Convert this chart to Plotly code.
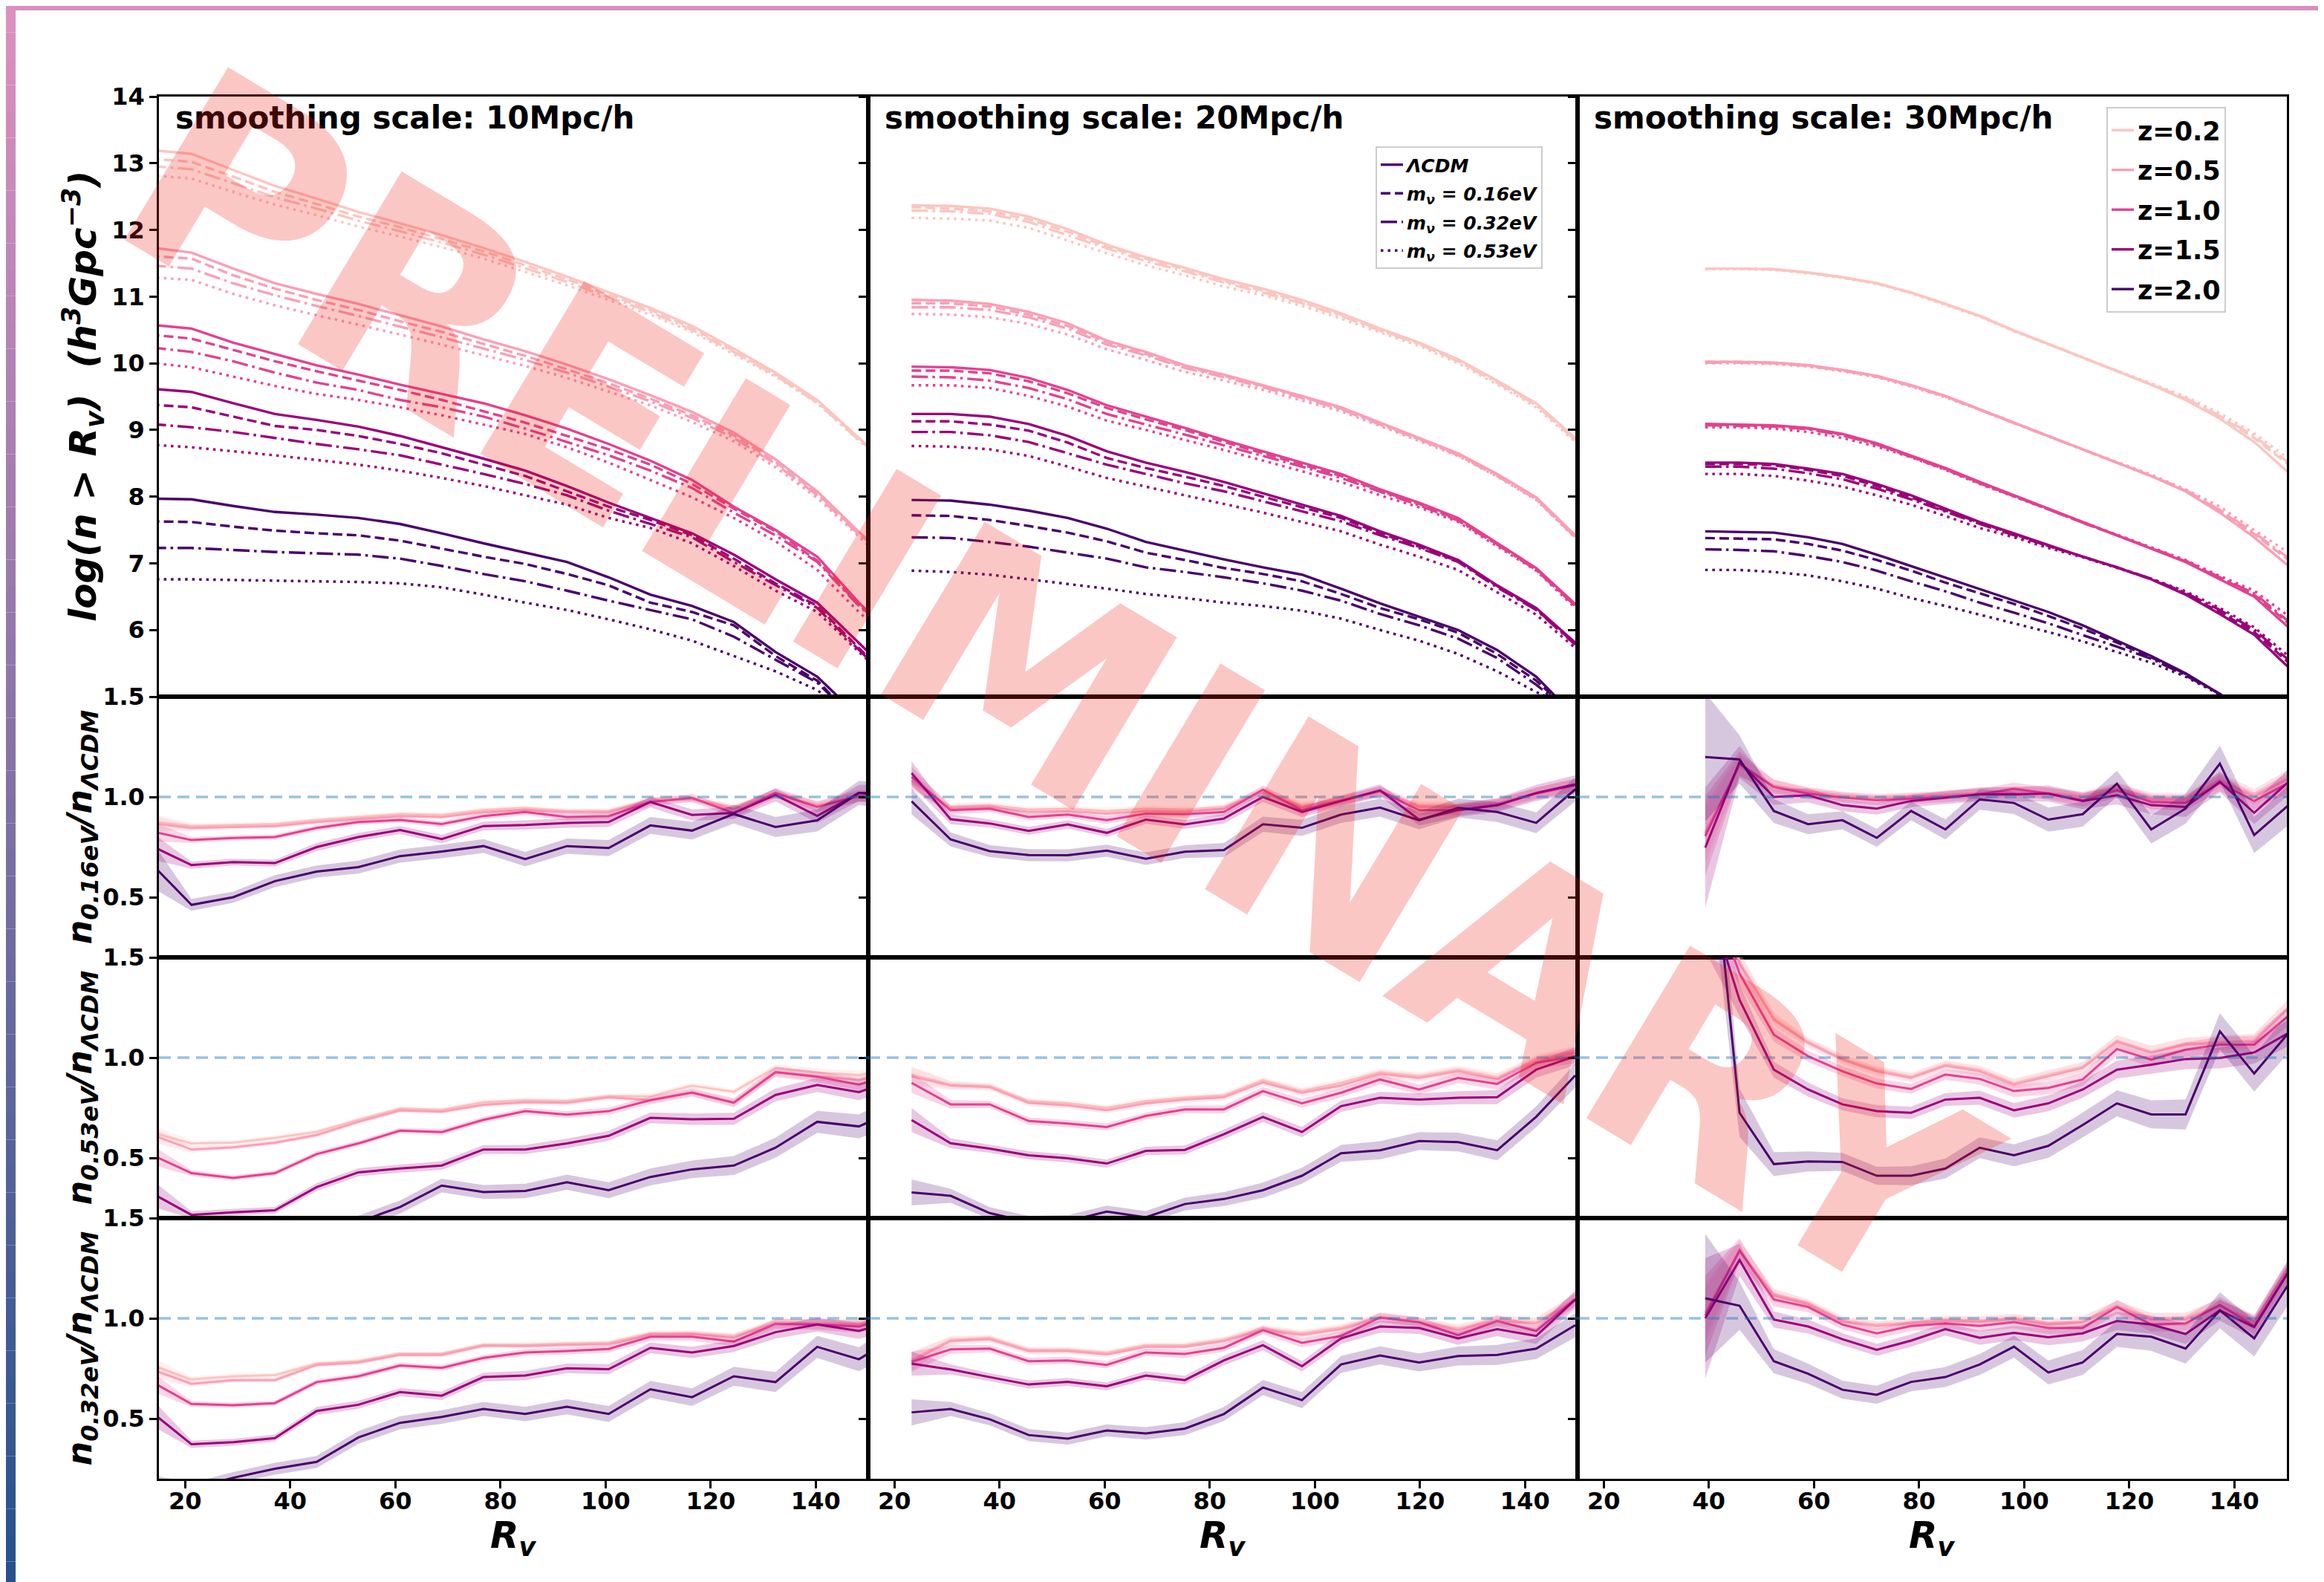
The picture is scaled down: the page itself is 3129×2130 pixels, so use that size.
import plotly.graph_objects as go

W, H = 3129, 2130

# ---------------- data ----------------
Z_LABELS = ["z=0.2", "z=0.5", "z=1.0", "z=1.5", "z=2.0"]
Z_COLORS = ["#fcc5c0", "#fa9fb5", "#e3418f", "#9a017a", "#49006a"]
MODEL_NAMES = ["ΛCDM", "m<sub>ν</sub> = 0.16eV", "m<sub>ν</sub> = 0.32eV", "m<sub>ν</sub> = 0.53eV"]
X_TICKS = [20, 40, 60, 80, 100, 120, 140]
Y_TICKS_TOP = [6, 7, 8, 9, 10, 11, 12, 13, 14]
Y_TICKS_RATIO = [0.5, 1.0, 1.5]

# void radius bin centres for each smoothing scale
X10 = [13.25, 21.19, 29.13, 37.07, 45.01, 52.95, 60.89, 68.83, 76.77, 84.71, 92.65,
       100.59, 108.53, 116.47, 124.41, 132.35, 140.29, 148.23, 156.17]
X20 = [23.25, 30.68, 38.11, 45.54, 52.97, 60.40, 67.83, 75.26, 82.69, 90.12, 97.55,
       104.98, 112.41, 119.84, 127.27, 134.70, 142.13, 149.56]
X30 = [39.30, 45.83, 52.36, 58.89, 65.42, 71.95, 78.48, 85.01, 91.54, 98.07, 104.60,
       111.13, 117.66, 124.19, 130.72, 137.25, 143.78, 150.31]

# top row: log(n > Rv), one list per redshift (0.2, 0.5, 1.0, 1.5, 2.0)
TOP10_LCDM = [
    [13.20, 13.14, 12.90, 12.66, 12.47, 12.27, 12.10, 11.92, 11.73, 11.52, 11.30, 11.06, 10.83, 10.56, 10.22, 9.86, 9.45, 8.88, 8.30],
    [11.74, 11.66, 11.42, 11.20, 11.04, 10.89, 10.72, 10.55, 10.36, 10.18, 9.98, 9.76, 9.52, 9.27, 8.96, 8.56, 8.08, 7.47, 6.90],
    [10.58, 10.52, 10.31, 10.14, 9.97, 9.83, 9.68, 9.54, 9.40, 9.22, 9.02, 8.79, 8.54, 8.25, 7.85, 7.50, 7.10, 6.41, 5.80],
    [9.62, 9.57, 9.40, 9.24, 9.15, 9.05, 8.91, 8.74, 8.57, 8.39, 8.16, 7.91, 7.68, 7.45, 7.13, 6.76, 6.41, 5.81, 5.20],
    [7.97, 7.96, 7.86, 7.77, 7.73, 7.68, 7.59, 7.45, 7.30, 7.16, 7.02, 6.79, 6.53, 6.36, 6.12, 5.67, 5.30, 4.70, 4.10]]
TOP10_016 = [
    [13.07, 13.02, 12.80, 12.57, 12.39, 12.20, 12.04, 11.86, 11.68, 11.47, 11.26, 11.03, 10.80, 10.53, 10.19, 9.84, 9.43, 8.86, 8.30],
    [11.61, 11.57, 11.32, 11.12, 10.95, 10.80, 10.63, 10.47, 10.29, 10.11, 9.91, 9.70, 9.47, 9.22, 8.92, 8.52, 8.05, 7.45, 6.90],
    [10.43, 10.37, 10.20, 10.03, 9.88, 9.74, 9.60, 9.45, 9.28, 9.11, 8.91, 8.71, 8.48, 8.19, 7.82, 7.48, 7.04, 6.38, 5.80],
    [9.38, 9.34, 9.20, 9.06, 9.00, 8.91, 8.79, 8.65, 8.48, 8.31, 8.08, 7.85, 7.65, 7.42, 7.07, 6.70, 6.36, 5.73, 5.10],
    [7.63, 7.62, 7.55, 7.49, 7.45, 7.42, 7.34, 7.22, 7.10, 6.99, 6.84, 6.67, 6.41, 6.27, 6.07, 5.61, 5.24, 4.60, 4.00]]
TOP10_032 = [
    [12.96, 12.91, 12.70, 12.49, 12.32, 12.14, 11.98, 11.81, 11.63, 11.43, 11.22, 10.99, 10.77, 10.50, 10.17, 9.82, 9.41, 8.85, 8.30],
    [11.47, 11.42, 11.20, 11.02, 10.86, 10.71, 10.55, 10.39, 10.22, 10.05, 9.86, 9.65, 9.43, 9.18, 8.88, 8.49, 8.02, 7.43, 6.90],
    [10.24, 10.17, 10.03, 9.86, 9.71, 9.60, 9.45, 9.34, 9.20, 9.02, 8.82, 8.62, 8.39, 8.13, 7.76, 7.42, 7.02, 6.36, 5.80],
    [9.09, 9.04, 8.97, 8.88, 8.79, 8.71, 8.62, 8.48, 8.34, 8.19, 8.02, 7.79, 7.59, 7.39, 7.02, 6.67, 6.33, 5.70, 5.10],
    [7.23, 7.23, 7.20, 7.17, 7.15, 7.13, 7.07, 6.96, 6.84, 6.73, 6.59, 6.44, 6.30, 6.16, 5.90, 5.55, 5.21, 4.60, 4.00]]
TOP10_053 = [
    [12.82, 12.77, 12.57, 12.38, 12.22, 12.05, 11.90, 11.74, 11.57, 11.37, 11.17, 10.95, 10.73, 10.47, 10.14, 9.80, 9.40, 8.84, 8.30],
    [11.29, 11.25, 11.04, 10.87, 10.72, 10.58, 10.43, 10.28, 10.12, 9.96, 9.78, 9.58, 9.37, 9.12, 8.83, 8.44, 7.98, 7.40, 6.80],
    [10.01, 9.94, 9.80, 9.66, 9.54, 9.45, 9.34, 9.22, 9.08, 8.94, 8.74, 8.51, 8.25, 7.99, 7.68, 7.33, 6.90, 6.27, 5.70],
    [8.78, 8.74, 8.68, 8.62, 8.55, 8.48, 8.39, 8.28, 8.16, 8.02, 7.88, 7.68, 7.53, 7.30, 6.96, 6.59, 6.27, 5.67, 5.10],
    [6.76, 6.76, 6.75, 6.74, 6.73, 6.72, 6.70, 6.64, 6.53, 6.41, 6.30, 6.16, 6.01, 5.84, 5.61, 5.38, 5.10, 4.60, 4.00]]

TOP20_LCDM = [
    [12.37, 12.36, 12.32, 12.20, 12.01, 11.78, 11.59, 11.43, 11.26, 11.12, 10.95, 10.75, 10.52, 10.31, 10.06, 9.74, 9.40, 8.88],
    [10.95, 10.94, 10.89, 10.77, 10.60, 10.34, 10.17, 9.97, 9.83, 9.67, 9.51, 9.34, 9.11, 8.88, 8.65, 8.34, 7.99, 7.42],
    [9.95, 9.94, 9.90, 9.78, 9.60, 9.37, 9.20, 9.03, 8.85, 8.68, 8.51, 8.34, 8.11, 7.91, 7.68, 7.30, 6.93, 6.39],
    [9.24, 9.24, 9.20, 9.09, 8.91, 8.68, 8.51, 8.37, 8.22, 8.05, 7.88, 7.71, 7.48, 7.28, 7.05, 6.67, 6.33, 5.81],
    [7.95, 7.94, 7.88, 7.79, 7.68, 7.52, 7.32, 7.19, 7.06, 6.94, 6.83, 6.62, 6.40, 6.20, 6.00, 5.70, 5.30, 4.70]]
TOP20_016 = [
    [12.34, 12.32, 12.28, 12.16, 11.97, 11.75, 11.57, 11.41, 11.23, 11.09, 10.92, 10.73, 10.50, 10.30, 10.04, 9.73, 9.39, 8.86],
    [10.90, 10.90, 10.85, 10.73, 10.56, 10.32, 10.14, 9.95, 9.81, 9.66, 9.50, 9.32, 9.10, 8.87, 8.64, 8.33, 7.98, 7.40],
    [9.89, 9.89, 9.85, 9.73, 9.55, 9.33, 9.16, 9.00, 8.82, 8.65, 8.48, 8.31, 8.09, 7.89, 7.66, 7.29, 6.92, 6.37],
    [9.13, 9.13, 9.08, 8.99, 8.81, 8.58, 8.43, 8.30, 8.16, 8.00, 7.84, 7.68, 7.45, 7.25, 7.03, 6.66, 6.31, 5.79],
    [7.72, 7.71, 7.65, 7.56, 7.46, 7.33, 7.16, 7.05, 6.93, 6.84, 6.73, 6.54, 6.33, 6.16, 5.96, 5.64, 5.24, 4.70]]
TOP20_032 = [
    [12.29, 12.28, 12.24, 12.12, 11.92, 11.72, 11.53, 11.38, 11.21, 11.06, 10.90, 10.71, 10.49, 10.29, 10.03, 9.71, 9.37, 8.85],
    [10.84, 10.84, 10.80, 10.69, 10.52, 10.28, 10.12, 9.93, 9.79, 9.64, 9.48, 9.31, 9.08, 8.86, 8.62, 8.31, 7.96, 7.39],
    [9.80, 9.79, 9.74, 9.63, 9.46, 9.24, 9.08, 8.93, 8.77, 8.61, 8.45, 8.28, 8.07, 7.87, 7.64, 7.28, 6.90, 6.36],
    [8.97, 8.97, 8.92, 8.82, 8.65, 8.48, 8.34, 8.20, 8.08, 7.93, 7.78, 7.63, 7.42, 7.23, 7.02, 6.64, 6.30, 5.78],
    [7.39, 7.38, 7.32, 7.25, 7.16, 7.07, 6.94, 6.87, 6.79, 6.70, 6.59, 6.44, 6.24, 6.07, 5.87, 5.58, 5.18, 4.70]]
TOP20_053 = [
    [12.18, 12.17, 12.14, 12.03, 11.84, 11.65, 11.47, 11.32, 11.15, 11.02, 10.86, 10.67, 10.46, 10.26, 10.00, 9.68, 9.34, 8.82],
    [10.74, 10.73, 10.69, 10.59, 10.43, 10.21, 10.05, 9.87, 9.74, 9.60, 9.44, 9.28, 9.06, 8.84, 8.61, 8.30, 7.95, 7.38],
    [9.67, 9.67, 9.63, 9.51, 9.35, 9.14, 9.00, 8.85, 8.70, 8.54, 8.38, 8.22, 8.02, 7.84, 7.62, 7.26, 6.89, 6.33],
    [8.76, 8.75, 8.71, 8.61, 8.45, 8.28, 8.15, 8.02, 7.89, 7.76, 7.62, 7.48, 7.28, 7.10, 6.90, 6.56, 6.23, 5.73],
    [6.89, 6.87, 6.83, 6.76, 6.69, 6.62, 6.54, 6.48, 6.41, 6.36, 6.29, 6.17, 6.00, 5.84, 5.64, 5.38, 5.07, 4.80]]

TOP30_LCDM = [
    [11.42, 11.42, 11.41, 11.36, 11.29, 11.20, 11.06, 10.89, 10.71, 10.49, 10.29, 10.09, 9.89, 9.68, 9.45, 9.17, 8.82, 8.36],
    [10.02, 10.02, 10.01, 9.97, 9.90, 9.81, 9.67, 9.51, 9.31, 9.11, 8.91, 8.71, 8.51, 8.31, 8.08, 7.76, 7.39, 6.96],
    [9.09, 9.08, 9.07, 9.03, 8.94, 8.80, 8.62, 8.43, 8.22, 8.02, 7.82, 7.62, 7.42, 7.22, 7.02, 6.76, 6.50, 6.04],
    [8.51, 8.51, 8.49, 8.42, 8.34, 8.19, 8.02, 7.82, 7.62, 7.45, 7.28, 7.10, 6.94, 6.76, 6.53, 6.24, 5.93, 5.44],
    [7.48, 7.47, 7.46, 7.39, 7.29, 7.13, 6.96, 6.79, 6.62, 6.44, 6.27, 6.07, 5.84, 5.61, 5.35, 5.04, 4.69, 4.35]]
TOP30_016 = [
    [11.42, 11.42, 11.41, 11.36, 11.29, 11.20, 11.06, 10.89, 10.71, 10.49, 10.29, 10.09, 9.89, 9.68, 9.47, 9.20, 8.88, 8.48],
    [10.02, 10.02, 10.01, 9.97, 9.90, 9.81, 9.67, 9.51, 9.31, 9.11, 8.91, 8.71, 8.51, 8.31, 8.09, 7.79, 7.44, 7.05],
    [9.08, 9.07, 9.06, 9.02, 8.93, 8.79, 8.61, 8.42, 8.21, 8.01, 7.81, 7.61, 7.42, 7.22, 7.03, 6.78, 6.53, 6.10],
    [8.49, 8.49, 8.47, 8.40, 8.31, 8.16, 7.99, 7.79, 7.61, 7.44, 7.26, 7.10, 6.94, 6.76, 6.54, 6.27, 5.97, 5.51],
    [7.38, 7.37, 7.36, 7.29, 7.19, 7.05, 6.89, 6.71, 6.55, 6.39, 6.21, 6.02, 5.81, 5.59, 5.34, 5.04, 4.69, 4.35]]
TOP30_032 = [
    [11.42, 11.42, 11.41, 11.36, 11.29, 11.20, 11.06, 10.89, 10.71, 10.49, 10.29, 10.09, 9.89, 9.68, 9.48, 9.21, 8.91, 8.51],
    [10.01, 10.01, 10.00, 9.96, 9.89, 9.80, 9.66, 9.50, 9.30, 9.10, 8.90, 8.71, 8.51, 8.31, 8.10, 7.80, 7.46, 7.08],
    [9.07, 9.06, 9.05, 9.01, 8.92, 8.78, 8.60, 8.41, 8.20, 8.01, 7.81, 7.61, 7.42, 7.23, 7.04, 6.79, 6.55, 6.13],
    [8.45, 8.45, 8.42, 8.35, 8.26, 8.12, 7.96, 7.77, 7.59, 7.42, 7.26, 7.10, 6.94, 6.77, 6.56, 6.30, 6.01, 5.55],
    [7.21, 7.20, 7.18, 7.11, 7.02, 6.89, 6.73, 6.58, 6.41, 6.26, 6.10, 5.93, 5.75, 5.57, 5.32, 5.04, 4.69, 4.35]]
TOP30_053 = [
    [11.41, 11.41, 11.40, 11.35, 11.28, 11.19, 11.05, 10.88, 10.70, 10.48, 10.28, 10.08, 9.89, 9.70, 9.50, 9.25, 8.95, 8.57],
    [10.00, 10.00, 9.99, 9.95, 9.88, 9.79, 9.65, 9.49, 9.30, 9.10, 8.90, 8.71, 8.52, 8.33, 8.11, 7.85, 7.50, 7.16],
    [9.04, 9.04, 9.02, 8.97, 8.88, 8.75, 8.59, 8.40, 8.19, 8.00, 7.80, 7.61, 7.42, 7.23, 7.05, 6.81, 6.59, 6.21],
    [8.34, 8.34, 8.31, 8.24, 8.15, 8.02, 7.88, 7.71, 7.53, 7.39, 7.23, 7.09, 6.93, 6.77, 6.58, 6.33, 6.04, 5.61],
    [6.90, 6.90, 6.87, 6.82, 6.73, 6.62, 6.48, 6.36, 6.23, 6.10, 5.97, 5.83, 5.67, 5.51, 5.30, 5.03, 4.69, 4.35]]

# ratio rows n_mnu / n_LCDM, one list per redshift
R016_10 = [
    [0.88, 0.855, 0.86, 0.865, 0.885, 0.90, 0.915, 0.91, 0.935, 0.945, 0.93, 0.93, 0.985, 0.99, 0.95, 1.02, 0.96, 1.005, 1.0],
    [0.87, 0.845, 0.85, 0.855, 0.875, 0.89, 0.905, 0.90, 0.925, 0.935, 0.925, 0.925, 0.98, 0.99, 0.94, 1.015, 0.955, 1.0, 1.0],
    [0.83, 0.785, 0.795, 0.80, 0.845, 0.875, 0.885, 0.865, 0.905, 0.925, 0.90, 0.905, 0.975, 0.995, 0.92, 1.02, 0.95, 1.005, 1.0],
    [0.76, 0.66, 0.675, 0.67, 0.75, 0.80, 0.835, 0.79, 0.855, 0.86, 0.87, 0.875, 0.975, 0.91, 0.92, 1.01, 0.905, 1.02, 1.02],
    [0.675, 0.462, 0.50, 0.58, 0.628, 0.65, 0.705, 0.728, 0.755, 0.69, 0.755, 0.745, 0.858, 0.832, 0.915, 0.85, 0.883, 1.02, 1.0]]
R053_10 = [
    [0.63, 0.572, 0.576, 0.60, 0.63, 0.69, 0.746, 0.74, 0.778, 0.788, 0.784, 0.807, 0.807, 0.86, 0.83, 0.95, 0.926, 0.913, 0.95],
    [0.62, 0.542, 0.553, 0.576, 0.614, 0.68, 0.737, 0.731, 0.765, 0.778, 0.775, 0.803, 0.788, 0.826, 0.775, 0.928, 0.907, 0.888, 0.93],
    [0.52, 0.424, 0.40, 0.424, 0.519, 0.572, 0.636, 0.629, 0.69, 0.733, 0.716, 0.733, 0.788, 0.826, 0.775, 0.928, 0.905, 0.866, 0.93],
    [0.33, 0.216, 0.229, 0.239, 0.354, 0.428, 0.447, 0.462, 0.542, 0.542, 0.572, 0.61, 0.70, 0.693, 0.695, 0.814, 0.864, 0.828, 0.90],
    [0.08, 0.09, 0.10, 0.12, 0.14, 0.18, 0.255, 0.362, 0.33, 0.335, 0.379, 0.339, 0.405, 0.443, 0.462, 0.551, 0.68, 0.657, 0.75]]
R032_10 = [
    [0.77, 0.695, 0.711, 0.717, 0.774, 0.786, 0.824, 0.824, 0.868, 0.868, 0.874, 0.878, 0.925, 0.927, 0.912, 0.981, 0.975, 0.975, 1.0],
    [0.75, 0.673, 0.692, 0.692, 0.768, 0.78, 0.818, 0.818, 0.864, 0.862, 0.868, 0.871, 0.918, 0.921, 0.906, 0.975, 0.969, 0.969, 1.0],
    [0.69, 0.573, 0.567, 0.577, 0.682, 0.711, 0.765, 0.753, 0.803, 0.83, 0.837, 0.847, 0.908, 0.908, 0.884, 0.972, 0.969, 0.959, 1.02],
    [0.54, 0.372, 0.382, 0.403, 0.538, 0.569, 0.632, 0.614, 0.707, 0.715, 0.751, 0.746, 0.853, 0.83, 0.862, 0.931, 0.969, 0.937, 1.0],
    [0.10, 0.15, 0.205, 0.25, 0.284, 0.406, 0.479, 0.508, 0.548, 0.523, 0.559, 0.523, 0.646, 0.607, 0.711, 0.682, 0.858, 0.796, 0.92]]

R016_20 = [
    [1.075, 0.95, 0.959, 0.937, 0.942, 0.93, 0.942, 0.937, 0.95, 1.025, 0.959, 0.983, 1.025, 0.959, 0.959, 0.97, 1.017, 1.058],
    [1.083, 0.942, 0.95, 0.925, 0.93, 0.917, 0.93, 0.925, 0.942, 1.03, 0.95, 0.98, 1.03, 0.95, 0.95, 0.967, 1.02, 1.058],
    [1.10, 0.934, 0.942, 0.90, 0.912, 0.884, 0.917, 0.914, 0.925, 1.036, 0.934, 0.983, 1.03, 0.934, 0.934, 0.959, 1.017, 1.058],
    [1.119, 0.889, 0.868, 0.831, 0.863, 0.821, 0.887, 0.863, 0.892, 1.0, 0.925, 0.98, 1.033, 0.887, 0.934, 0.959, 1.02, 1.063],
    [0.978, 0.788, 0.73, 0.71, 0.709, 0.732, 0.692, 0.727, 0.735, 0.864, 0.846, 0.912, 0.947, 0.884, 0.945, 0.925, 0.871, 1.038]]
R053_20 = [
    [0.916, 0.866, 0.858, 0.783, 0.772, 0.75, 0.783, 0.80, 0.811, 0.887, 0.833, 0.874, 0.927, 0.907, 0.94, 0.902, 0.99, 1.031],
    [0.907, 0.861, 0.853, 0.775, 0.762, 0.738, 0.772, 0.791, 0.803, 0.877, 0.825, 0.861, 0.919, 0.899, 0.932, 0.894, 0.982, 1.023],
    [0.874, 0.767, 0.767, 0.684, 0.671, 0.654, 0.709, 0.742, 0.742, 0.833, 0.772, 0.825, 0.891, 0.841, 0.899, 0.869, 0.974, 1.007],
    [0.689, 0.573, 0.546, 0.513, 0.498, 0.472, 0.535, 0.54, 0.618, 0.704, 0.629, 0.758, 0.80, 0.791, 0.80, 0.803, 0.94, 1.007],
    [0.328, 0.311, 0.225, 0.18, 0.185, 0.232, 0.204, 0.27, 0.295, 0.339, 0.411, 0.523, 0.538, 0.584, 0.579, 0.538, 0.705, 0.911]]
R032_20 = [
    [0.793, 0.893, 0.903, 0.843, 0.843, 0.828, 0.866, 0.866, 0.893, 0.95, 0.925, 0.954, 1.009, 0.987, 0.95, 0.994, 0.981, 1.094],
    [0.786, 0.887, 0.896, 0.837, 0.837, 0.82, 0.858, 0.858, 0.887, 0.943, 0.918, 0.946, 1.004, 0.981, 0.943, 0.987, 0.975, 1.088],
    [0.783, 0.845, 0.849, 0.786, 0.79, 0.768, 0.83, 0.822, 0.853, 0.941, 0.878, 0.912, 1.004, 0.981, 0.916, 0.987, 0.937, 1.097],
    [0.774, 0.745, 0.707, 0.67, 0.683, 0.661, 0.715, 0.692, 0.79, 0.866, 0.761, 0.90, 0.959, 0.952, 0.90, 0.946, 0.912, 1.094],
    [0.531, 0.548, 0.497, 0.418, 0.40, 0.441, 0.426, 0.45, 0.523, 0.655, 0.592, 0.77, 0.815, 0.78, 0.812, 0.818, 0.849, 0.966]]

R016_30 = [
    [0.826, 1.152, 1.058, 1.03, 1.008, 0.997, 1.003, 1.012, 1.02, 1.028, 1.022, 1.003, 1.046, 0.992, 0.992, 1.086, 1.008, 1.096],
    [0.818, 1.157, 1.053, 1.025, 1.003, 0.992, 1.0, 1.008, 1.017, 1.025, 1.017, 0.997, 1.041, 0.987, 0.983, 1.083, 1.0, 1.091],
    [0.805, 1.166, 1.05, 1.017, 0.997, 0.983, 0.992, 1.0, 1.013, 1.041, 1.017, 0.983, 1.033, 0.975, 0.97, 1.07, 0.98, 1.07],
    [0.747, 1.174, 1.0, 1.008, 0.959, 0.942, 0.98, 0.997, 1.013, 1.013, 1.017, 0.98, 1.008, 0.959, 0.95, 1.075, 0.921, 1.075],
    [1.199, 1.187, 0.93, 0.864, 0.884, 0.796, 0.93, 0.838, 0.988, 0.97, 0.887, 0.914, 1.066, 0.838, 0.942, 1.166, 0.81, 0.959]]
R053_30 = [
    [2.0, 1.48, 1.195, 1.08, 0.995, 0.94, 0.905, 0.966, 0.94, 0.872, 0.915, 0.955, 1.085, 1.03, 1.07, 1.078, 1.085, 1.25],
    [1.98, 1.47, 1.189, 1.073, 0.99, 0.932, 0.899, 0.96, 0.932, 0.866, 0.907, 0.949, 1.081, 1.026, 1.065, 1.073, 1.081, 1.247],
    [1.9, 1.42, 1.114, 1.007, 0.932, 0.871, 0.844, 0.916, 0.894, 0.833, 0.849, 0.891, 1.043, 0.99, 1.04, 1.065, 1.065, 1.209],
    [1.83, 1.288, 0.94, 0.841, 0.767, 0.733, 0.725, 0.791, 0.80, 0.737, 0.772, 0.841, 0.94, 0.965, 0.993, 0.998, 1.026, 1.123],
    [2.43, 0.725, 0.469, 0.482, 0.48, 0.411, 0.411, 0.447, 0.551, 0.513, 0.56, 0.664, 0.772, 0.717, 0.717, 1.131, 0.921, 1.123]]
R032_30 = [
    [1.031, 1.333, 1.119, 1.075, 0.991, 0.969, 0.981, 0.994, 0.991, 1.0, 0.975, 0.987, 1.063, 1.0, 1.0, 1.063, 0.987, 1.251],
    [1.025, 1.335, 1.113, 1.069, 0.984, 0.962, 0.975, 0.987, 0.984, 0.994, 0.969, 0.981, 1.057, 0.994, 0.994, 1.059, 0.981, 1.245],
    [1.013, 1.339, 1.094, 1.057, 0.969, 0.925, 0.962, 0.975, 0.962, 0.981, 0.952, 0.952, 1.057, 0.969, 0.975, 1.067, 0.962, 1.232],
    [1.0, 1.291, 0.994, 0.959, 0.896, 0.843, 0.889, 0.946, 0.903, 0.928, 0.906, 0.925, 0.987, 0.969, 0.922, 1.04, 0.956, 1.232],
    [1.10, 1.063, 0.786, 0.724, 0.644, 0.619, 0.683, 0.707, 0.77, 0.859, 0.73, 0.78, 0.922, 0.908, 0.849, 1.04, 0.90, 1.17]]

# half-width of the shaded uncertainty band for the ratio rows
ERR10 = [
    [0.04, 0.015, 0.012, 0.012, 0.012, 0.012, 0.012, 0.012, 0.012, 0.012, 0.013, 0.013, 0.015, 0.015, 0.015, 0.018, 0.02, 0.022, 0.03],
    [0.04, 0.015, 0.012, 0.012, 0.012, 0.012, 0.012, 0.012, 0.012, 0.013, 0.013, 0.014, 0.015, 0.016, 0.017, 0.02, 0.022, 0.025, 0.03],
    [0.05, 0.015, 0.013, 0.013, 0.014, 0.014, 0.014, 0.015, 0.015, 0.016, 0.017, 0.018, 0.02, 0.02, 0.022, 0.025, 0.027, 0.03, 0.035],
    [0.07, 0.018, 0.017, 0.017, 0.02, 0.02, 0.02, 0.021, 0.022, 0.023, 0.024, 0.025, 0.027, 0.028, 0.03, 0.032, 0.035, 0.04, 0.045],
    [0.12, 0.03, 0.028, 0.03, 0.03, 0.032, 0.033, 0.034, 0.035, 0.036, 0.038, 0.04, 0.042, 0.044, 0.047, 0.05, 0.055, 0.06, 0.07]]
ERR20 = [
    [0.04, 0.02, 0.015, 0.015, 0.015, 0.015, 0.015, 0.015, 0.016, 0.018, 0.018, 0.019, 0.02, 0.02, 0.021, 0.023, 0.025, 0.03],
    [0.045, 0.02, 0.016, 0.016, 0.016, 0.016, 0.016, 0.016, 0.017, 0.019, 0.019, 0.02, 0.021, 0.021, 0.022, 0.024, 0.026, 0.032],
    [0.05, 0.022, 0.018, 0.018, 0.018, 0.018, 0.018, 0.019, 0.02, 0.021, 0.022, 0.023, 0.024, 0.025, 0.026, 0.028, 0.03, 0.035],
    [0.06, 0.025, 0.02, 0.02, 0.02, 0.02, 0.021, 0.022, 0.024, 0.025, 0.026, 0.028, 0.03, 0.03, 0.032, 0.035, 0.04, 0.045],
    [0.065, 0.035, 0.03, 0.03, 0.03, 0.03, 0.031, 0.032, 0.035, 0.038, 0.04, 0.042, 0.045, 0.045, 0.047, 0.05, 0.052, 0.06]]
ERR30 = [
    [0.12, 0.05, 0.03, 0.022, 0.02, 0.02, 0.02, 0.021, 0.022, 0.024, 0.025, 0.026, 0.028, 0.03, 0.031, 0.033, 0.035, 0.04],
    [0.15, 0.055, 0.032, 0.024, 0.022, 0.022, 0.022, 0.023, 0.024, 0.026, 0.027, 0.028, 0.03, 0.032, 0.033, 0.035, 0.037, 0.045],
    [0.2, 0.06, 0.035, 0.027, 0.025, 0.025, 0.025, 0.026, 0.028, 0.03, 0.031, 0.032, 0.035, 0.036, 0.037, 0.04, 0.042, 0.05],
    [0.3, 0.08, 0.04, 0.035, 0.03, 0.03, 0.031, 0.032, 0.035, 0.036, 0.04, 0.041, 0.045, 0.046, 0.05, 0.052, 0.056, 0.065],
    [0.32, 0.12, 0.06, 0.05, 0.045, 0.045, 0.047, 0.05, 0.052, 0.055, 0.06, 0.062, 0.065, 0.07, 0.075, 0.09, 0.09, 0.1]]

PANELS = [
    dict(x=X10, top=[TOP10_LCDM, TOP10_016, TOP10_032, TOP10_053],
         ratio=[R016_10, R053_10, R032_10], err=ERR10, title="smoothing scale: 10Mpc/h"),
    dict(x=X20, top=[TOP20_LCDM, TOP20_016, TOP20_032, TOP20_053],
         ratio=[R016_20, R053_20, R032_20], err=ERR20, title="smoothing scale: 20Mpc/h"),
    dict(x=X30, top=[TOP30_LCDM, TOP30_016, TOP30_032, TOP30_053],
         ratio=[R016_30, R053_30, R032_30], err=ERR30, title="smoothing scale: 30Mpc/h"),
]
RATIO_LABELS = ["0.16eV", "0.53eV", "0.32eV"]

# ---------------- layout geometry (screen pixels) ----------------
SHIFT = 8  # the page body adds an 8 px margin around the figure
COL_L = [214, 1169, 2124]
COL_R = [1169, 2124, 3079]
ROW_T = [130, 938, 1289, 1640]
ROW_B = [938, 1289, 1640, 1991]
DASHES = ["solid", "13px,6px", "22px,6px,3.5px,6px", "3.5px,6px"]
FONT = "DejaVu Sans"


def pxx(p):
    return (p - SHIFT) / W


def pxy(p):
    return 1 - (p - SHIFT) / H


def rgba(hexc, a):
    h = hexc.lstrip("#")
    return "rgba(%d,%d,%d,%.3f)" % (int(h[0:2], 16), int(h[2:4], 16), int(h[4:6], 16), a)


fig = go.Figure()
layout = {}
shapes = []
annotations = []

tickfont = dict(family=FONT, size=32, color="black", weight="bold")

for r in range(4):
    for c in range(3):
        k = r * 3 + c + 1
        xa = "xaxis" if k == 1 else "xaxis%d" % k
        ya = "yaxis" if k == 1 else "yaxis%d" % k
        xr = "x" if k == 1 else "x%d" % k
        yr = "y" if k == 1 else "y%d" % k
        layout[xa] = dict(
            domain=[pxx(COL_L[c]), pxx(COL_R[c])], anchor=yr, range=[15, 150],
            showgrid=False, zeroline=False, showline=True, mirror=True,
            linecolor="black", linewidth=2.5, automargin=False,
            tickmode="array", tickvals=X_TICKS,
            ticks="outside" if r == 3 else "", ticklen=10, tickwidth=2.5, tickcolor="black",
            ticklabelstandoff=-10,
            showticklabels=(r == 3), tickfont=tickfont)
        if r == 0:
            yrange, ytv, ytt = [5, 14], Y_TICKS_TOP, [str(v) for v in Y_TICKS_TOP]
        else:
            yrange, ytv, ytt = [0.2, 1.5], Y_TICKS_RATIO, ["%.1f" % v for v in Y_TICKS_RATIO]
        layout[ya] = dict(
            domain=[pxy(ROW_B[r]), pxy(ROW_T[r])], anchor=xr, range=yrange,
            showgrid=False, zeroline=False, showline=True, mirror=True,
            linecolor="black", linewidth=2.5, automargin=False,
            tickmode="array", tickvals=ytv, ticktext=ytt,
            ticks="outside", ticklen=10, tickwidth=2.5, tickcolor="black",
            showticklabels=(c == 0), tickfont=tickfont)

        P = PANELS[c]
        xs = P["x"]
        if r == 0:
            for zi in range(5):
                for mi in range(4):
                    in_leg1 = (c == 1 and zi == 4)
                    in_leg2 = (c == 2 and mi == 0)
                    tr = dict(
                        x=xs, y=P["top"][mi][zi], mode="lines", xaxis=xr, yaxis=yr,
                        line=dict(color=Z_COLORS[zi], width=3.4, dash=DASHES[mi]),
                        hoverinfo="skip", showlegend=False)
                    if in_leg1:
                        tr.update(showlegend=True, name=MODEL_NAMES[mi], legend="legend",
                                  legendgroup="m%d" % mi)
                    elif in_leg2:
                        tr.update(showlegend=True, name=Z_LABELS[zi], legend="legend2",
                                  legendgroup="z%d" % zi)
                    fig.add_trace(go.Scatter(**tr))
            annotations.append(dict(
                text="<b>%s</b>" % P["title"], xref="paper", yref="paper",
                x=pxx(COL_L[c] + 20), y=pxy(158), xanchor="left", yanchor="middle",
                showarrow=False, font=dict(family=FONT, size=42, color="black")))
        else:
            ratios = P["ratio"][r - 1]
            for zi in range(5):
                yv = ratios[zi]
                ev = P["err"][zi]
                up = [a + b for a, b in zip(yv, ev)]
                lo = [a - b for a, b in zip(yv, ev)]
                fig.add_trace(go.Scatter(
                    x=list(xs) + list(xs[::-1]), y=up + lo[::-1], mode="lines",
                    fill="toself", fillcolor=rgba(Z_COLORS[zi], 0.22),
                    line=dict(width=0), xaxis=xr, yaxis=yr,
                    hoverinfo="skip", showlegend=False))
                fig.add_trace(go.Scatter(
                    x=xs, y=yv, mode="lines", xaxis=xr, yaxis=yr,
                    line=dict(color=Z_COLORS[zi], width=3.0),
                    hoverinfo="skip", showlegend=False))
            shapes.append(dict(
                type="line", xref=xr + " domain", yref=yr, x0=0, x1=1, y0=1.0, y1=1.0,
                line=dict(color="rgba(31,119,180,0.45)", width=3.5, dash="16px,9px"),
                layer="above"))

# axis labels
annotations.append(dict(
    text="<b><i>log(n &gt; R<sub>v</sub>)  (h<sup>3</sup>Gpc<sup>−3</sup>)</i></b>",
    xref="paper", yref="paper", x=pxx(112), y=pxy((ROW_T[0] + ROW_B[0]) / 2),
    textangle=-90, showarrow=False, xanchor="center", yanchor="middle",
    font=dict(family=FONT, size=50, color="black")))
for r in range(1, 4):
    annotations.append(dict(
        text="<b><i>n<sub>%s</sub>/n<sub>ΛCDM</sub></i></b>" % RATIO_LABELS[r - 1],
        xref="paper", yref="paper", x=pxx(110), y=pxy((ROW_T[r] + ROW_B[r]) / 2),
        textangle=-90, showarrow=False, xanchor="center", yanchor="middle",
        font=dict(family=FONT, size=46, color="black")))
for c in range(3):
    annotations.append(dict(
        text="<b><i>R<sub>v</sub></i></b>", xref="paper", yref="paper",
        x=pxx((COL_L[c] + COL_R[c]) / 2), y=pxy(2070), showarrow=False,
        xanchor="center", yanchor="middle",
        font=dict(family=FONT, size=50, color="black")))

# watermark
annotations.append(dict(
    text="<b>PRELIMINARY</b>", xref="paper", yref="paper",
    x=pxx(1420), y=pxy(925), textangle=31, showarrow=False,
    xanchor="center", yanchor="middle",
    font=dict(family=FONT, size=372, color="rgba(240,30,20,0.25)")))

# decorative frame strips (top and left)
shapes.append(dict(type="rect", xref="paper", yref="paper", x0=0, x1=1,
                   y0=pxy(14), y1=1, fillcolor="#d98ec0", line=dict(width=0), layer="below"))
c_top = (220, 143, 192)
c_bot = (36, 82, 140)
NB = 60
for i in range(NB):
    t = i / (NB - 1)
    col = tuple(int(round(c_top[j] + (c_bot[j] - c_top[j]) * t)) for j in range(3))
    shapes.append(dict(type="rect", xref="paper", yref="paper", x0=0, x1=pxx(21),
                       y0=1 - (i + 1) / NB, y1=1 - i / NB,
                       fillcolor="rgb(%d,%d,%d)" % col, line=dict(width=0), layer="below"))

layout.update(
    width=W, height=H, margin=dict(l=0, r=0, t=0, b=0, autoexpand=False),
    paper_bgcolor="white", plot_bgcolor="white",
    font=dict(family=FONT, color="black"),
    shapes=shapes, annotations=annotations,
    legend=dict(x=pxx(1852), y=pxy(197), xanchor="left", yanchor="top",
                bgcolor="rgba(255,255,255,0.85)", bordercolor="#cccccc", borderwidth=2,
                font=dict(family=FONT, size=25, color="black", weight="bold", style="italic"),
                traceorder="grouped", tracegroupgap=3),
    legend2=dict(x=pxx(2836), y=pxy(144), xanchor="left", yanchor="top",
                 bgcolor="rgba(255,255,255,0.85)", bordercolor="#cccccc", borderwidth=2,
                 font=dict(family=FONT, size=35, color="black", weight="bold"),
                 traceorder="grouped", tracegroupgap=5),
)
fig.update_layout(**layout)
fig.write_html("out.html")
